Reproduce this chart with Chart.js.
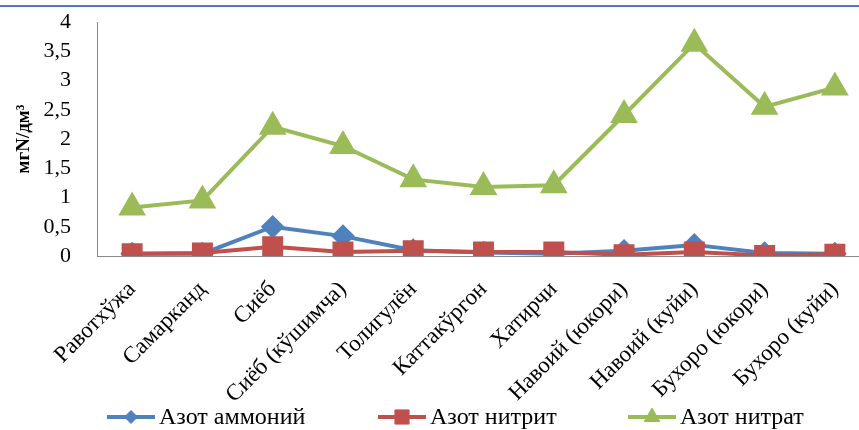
<!DOCTYPE html>
<html>
<head>
<meta charset="utf-8">
<script src="https://cdn.jsdelivr.net/npm/chart.js@4.4.1/dist/chart.umd.min.js"></script>
<style>
  html, body { margin: 0; padding: 0; background: #fff; overflow: hidden; width: 859px; height: 430px; }
  #topLine { position: absolute; left: 0; top: 5px; width: 859px; height: 2px; background: #4a7ebb; }
  #wrap { position: absolute; left: 0; top: 0; }
</style>
</head>
<body>
<div id="topLine"></div>
<div id="wrap"><canvas id="myChart" width="886" height="430"></canvas></div>
<script>
const stations = ["Равотхўжа", "Самарканд", "Сиёб", "Сиёб (кўшимча)", "Толигулён", "Каттакўргон",
  "Хатирчи", "Навоий (юкори)", "Навоий (куйи)", "Бухоро (юкори)", "Бухоро (куйи)"];
const ammonium = [0.04, 0.04, 0.50, 0.34, 0.10, 0.06, 0.04, 0.09, 0.19, 0.05, 0.04];
const nitrite  = [0.04, 0.05, 0.16, 0.07, 0.09, 0.07, 0.07, 0.02, 0.07, 0.01, 0.03];
const nitrate  = [0.83, 0.95, 2.21, 1.88, 1.31, 1.18, 1.21, 2.41, 3.63, 2.55, 2.88];
const yTicks = [0, 0.5, 1, 1.5, 2, 2.5, 3, 3.5, 4];

const serif = "'Liberation Serif', 'Times New Roman', serif";
const ctx = document.getElementById("myChart");

// legend like in Excel: short line with the marker on it, then the label
const legendStarts = [107, 378, 628];
const lineLegend = {
  id: "lineLegend",
  afterDraw(chart) {
    const c = chart.ctx;
    const y = 417;
    c.save();
    c.font = "24px " + serif;
    c.textBaseline = "middle";
    chart.data.datasets.forEach((ds, i) => {
      const x = legendStarts[i];
      c.strokeStyle = ds.borderColor;
      c.lineWidth = ds.borderWidth;
      c.beginPath();
      c.moveTo(x, y);
      c.lineTo(x + 48, y);
      c.stroke();
      c.fillStyle = ds.borderColor;
      c.lineWidth = 1;
      Chart.helpers.drawPoint(c, { pointStyle: ds.pointStyle, radius: ds.legendRadius, borderWidth: 1 }, x + 24, y);
      c.fillStyle = "#000";
      c.fillText(ds.label, x + 52, y + 1);
    });
    c.restore();
  }
};

new Chart(ctx, {
  type: "line",
  data: {
    labels: stations,
    datasets: [
      {
        label: "Азот аммоний",
        data: ammonium,
        borderColor: "#4f81bd",
        backgroundColor: "#4f81bd",
        borderWidth: 4,
        pointStyle: "rectRot",
        pointRadius: 9,
        legendRadius: 6.5,
        order: 2
      },
      {
        label: "Азот нитрит",
        data: nitrite,
        borderColor: "#c0504d",
        backgroundColor: "#c0504d",
        borderWidth: 4,
        pointStyle: "rect",
        pointRadius: 12,
        legendRadius: 10,
        order: 1
      },
      {
        label: "Азот нитрат",
        data: nitrate,
        borderColor: "#9bbb59",
        backgroundColor: "#9bbb59",
        borderWidth: 4,
        pointStyle: "triangle",
        pointRadius: 12,
        legendRadius: 9,
        order: 0
      }
    ]
  },
  options: {
    responsive: false,
    animation: false,
    layout: { padding: { top: 22, left: 0, right: 0, bottom: 0 } },
    plugins: {
      legend: { display: false },
      tooltip: { enabled: false }
    },
    scales: {
      x: {
        offset: true,
        grid: { display: false },
        border: { display: true, color: "#888", width: 1 },
        ticks: {
          color: "#000",
          font: { family: serif, size: 23 },
          minRotation: 45,
          maxRotation: 45,
          padding: 12,
          autoSkip: false
        },
        afterFit(scale) {
          scale.height = 174;
          scale.paddingLeft = 0;
          scale.paddingRight = 0;
        }
      },
      y: {
        min: 0,
        max: 4,
        grid: { display: false },
        border: { display: true, color: "#888", width: 1 },
        afterBuildTicks(scale) {
          scale.ticks = yTicks.map(v => ({ value: v }));
        },
        ticks: {
          color: "#000",
          font: { family: serif, size: 22 },
          padding: 18,
          autoSkip: false,
          callback: v => String(v).replace(".", ",")
        },
        title: {
          display: true,
          text: "мгN/дм³",
          color: "#000",
          font: { family: serif, size: 19, weight: "bold" },
          padding: { top: 13, bottom: 0 }
        },
        afterFit(scale) {
          scale.width = 97;
          scale.paddingTop = 0;
          scale.paddingBottom = 0;
        }
      }
    }
  },
  plugins: [lineLegend]
});
</script>
</body>
</html>
